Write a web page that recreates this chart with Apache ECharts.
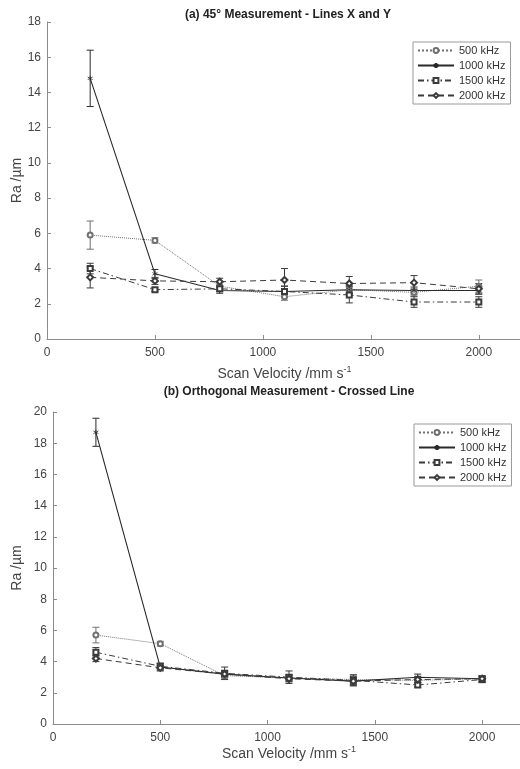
<!DOCTYPE html>
<html lang="en">
<head>
    <meta charset="UTF-8"/>
    <title>Ra vs scan velocity</title>
    <script type="text/javascript" src="https://cdn.jsdelivr.net/npm/echarts@6/dist/echarts.min.js"></script>
</head>
<body style="margin:0;background:#fff">
<div id="main" style="width: 520px;height: 769px"></div>
<script type="text/javascript">
    // scan velocities (mm/s)
    var velocity = [200, 500, 800, 1100, 1400, 1700, 2000];
    var seriesNames = ['500 kHz', '1000 kHz', '1500 kHz', '2000 kHz'];
    var xTicks = [0, 500, 1000, 1500, 2000];

    // (a) 45 deg measurement, Ra in um, and error (+/-)
    var a500 = [5.9, 5.6, 3.0, 2.4, 2.8, 2.65, 3.0];
    var a500Err = [0.8, 0.15, 0.2, 0.2, 0.25, 0.2, 0.35];
    var a1000 = [14.8, 3.7, 2.75, 2.7, 2.8, 2.75, 2.75];
    var a1000Err = [1.6, 0.25, 0.15, 0.3, 0.2, 0.2, 0.2];
    var a1500 = [4.0, 2.8, 2.85, 2.7, 2.5, 2.1, 2.1];
    var a1500Err = [0.3, 0.1, 0.15, 0.3, 0.45, 0.3, 0.3];
    var a2000 = [3.5, 3.3, 3.25, 3.35, 3.15, 3.2, 2.85];
    var a2000Err = [0.6, 0.2, 0.2, 0.65, 0.4, 0.4, 0.3];

    // (b) orthogonal measurement
    var b500 = [5.7, 5.15, 3.1, 2.95, 2.85, 2.8, 2.9];
    var b500Err = [0.5, 0.15, 0.2, 0.2, 0.3, 0.15, 0.2];
    var b1000 = [18.7, 3.65, 3.2, 2.95, 2.75, 3.0, 2.9];
    var b1000Err = [0.9, 0.25, 0.2, 0.2, 0.2, 0.2, 0.15];
    var b1500 = [4.6, 3.7, 3.25, 3.0, 2.8, 2.5, 2.85];
    var b1500Err = [0.3, 0.15, 0.4, 0.4, 0.35, 0.15, 0.2];
    var b2000 = [4.2, 3.6, 3.2, 2.9, 2.75, 2.85, 2.9];
    var b2000Err = [0.2, 0.15, 0.2, 0.2, 0.3, 0.2, 0.2];

    var starPath = 'path://M0,-5L0,5M-4.3,-2.5L4.3,2.5M-4.3,2.5L4.3,-2.5';
    var styles = [
        {symbol: 'emptyCircle', size: 5, color: '#707070', type: 'dotted', width: 1},
        {symbol: starPath, size: 5, color: '#2a2a2a', type: 'solid', width: 1.1},
        {symbol: 'emptyRect', size: 5, color: '#3a3a3a', type: [6, 3, 1.5, 3], width: 1},
        {symbol: 'emptyDiamond', size: 6, color: '#3a3a3a', type: [6, 4], width: 1}
    ];

    var myChart = echarts.init(document.getElementById('main'));

    function pairs(ys) {
        return velocity.map(function (v, i) { return [v, ys[i]]; });
    }

    function errData(ys, es) {
        return velocity.map(function (v, i) { return [v, ys[i] - es[i], ys[i] + es[i]]; });
    }

    function errBar(params, api) {
        var lo = api.coord([api.value(0), api.value(1)]);
        var hi = api.coord([api.value(0), api.value(2)]);
        var st = {stroke: api.visual('color'), lineWidth: 1};
        return {
            type: 'group',
            children: [
                {type: 'line', shape: {x1: lo[0], y1: lo[1], x2: hi[0], y2: hi[1]}, style: st},
                {type: 'line', shape: {x1: lo[0] - 3.5, y1: lo[1], x2: lo[0] + 3.5, y2: lo[1]}, style: st},
                {type: 'line', shape: {x1: hi[0] - 3.5, y1: hi[1], x2: hi[0] + 3.5, y2: hi[1]}, style: st}
            ]
        };
    }

    var series = [];
    var bars = [];
    function addSet(idx, list, errs) {
        list.forEach(function (ys, k) {
            var s = styles[k];
            series.push({
                name: seriesNames[k], type: 'line', xAxisIndex: idx, yAxisIndex: idx,
                data: pairs(ys), symbol: s.symbol, symbolSize: s.size,
                lineStyle: {color: s.color, type: s.type, width: s.width},
                itemStyle: {color: s.color, borderColor: s.color, borderWidth: 0.8},
                z: 2
            });
            // error bars go after the lines so the legend picks up the line icon
            bars.push({
                name: seriesNames[k], type: 'custom', xAxisIndex: idx, yAxisIndex: idx,
                renderItem: errBar, data: errData(ys, errs[k]),
                itemStyle: {color: s.color}, z: 1, silent: true
            });
        });
    }
    addSet(0, [a500, a1000, a1500, a2000], [a500Err, a1000Err, a1500Err, a2000Err]);
    addSet(1, [b500, b1000, b1500, b2000], [b500Err, b1000Err, b1500Err, b2000Err]);
    series = series.concat(bars);

    var axisGray = '#8c8c8c';
    function xAxis(idx, gap) {
        return {
            type: 'value', gridIndex: idx, min: 0, max: 2200, interval: 500,
            name: '{a|Scan Velocity /mm s}{b|-1}', nameLocation: 'middle', nameGap: gap,
            nameTextStyle: {
                rich: {
                    a: {fontSize: 14, color: '#444', fontFamily: 'Liberation Sans'},
                    b: {fontSize: 9, color: '#444', fontFamily: 'Liberation Sans', padding: [0, 0, 9, 0]}
                }
            },
            axisLine: {show: true, lineStyle: {color: axisGray}},
            axisTick: {show: true, inside: true, length: 4, lineStyle: {color: axisGray}},
            axisLabel: {color: '#444', fontSize: 12, fontFamily: 'Liberation Sans', showMaxLabel: false,
                formatter: function (v) { return xTicks.indexOf(v) >= 0 ? v : ''; }},
            splitLine: {show: false}
        };
    }
    function yAxis(idx, max, gap) {
        return {
            type: 'value', gridIndex: idx, min: 0, max: max, interval: 2,
            name: 'Ra /µm', nameLocation: 'middle', nameGap: gap, nameMoveOverlap: false,
            nameTextStyle: {fontSize: 14, color: '#444', fontFamily: 'Liberation Sans'},
            axisLine: {show: true, lineStyle: {color: axisGray}},
            axisTick: {show: true, inside: true, length: 4, lineStyle: {color: axisGray}},
            axisLabel: {color: '#444', fontSize: 12, fontFamily: 'Liberation Sans', margin: 6},
            splitLine: {show: false}
        };
    }
    function legend(top, left) {
        return {
            data: seriesNames, orient: 'vertical', top: top, left: left,
            itemWidth: 36, itemHeight: 6, itemGap: 4,
            padding: [3, 5, 3, 4], borderColor: '#999', borderWidth: 1, backgroundColor: '#fff',
            textStyle: {fontSize: 11, color: '#333', fontFamily: 'Liberation Sans'}
        };
    }

    var option = {
        animation: false,
        title: [
            {text: '(a) 45° Measurement - Lines X and Y', left: 283, top: 4, textAlign: 'center',
                textStyle: {fontSize: 12, fontWeight: 'bold', color: '#222', fontFamily: 'Liberation Sans'}},
            {text: '(b) Orthogonal Measurement - Crossed Line', left: 284, top: 381, textAlign: 'center',
                textStyle: {fontSize: 12, fontWeight: 'bold', color: '#222', fontFamily: 'Liberation Sans'}}
        ],
        legend: [legend(42, 413), legend(424, 414)],
        grid: [
            {left: 47, top: 22, width: 475, height: 317, outerBoundsMode: 'none'},
            {left: 53, top: 412, width: 472, height: 312, outerBoundsMode: 'none'}
        ],
        xAxis: [xAxis(0, 26), xAxis(1, 21)],
        yAxis: [yAxis(0, 18, 23), yAxis(1, 20, 29)],
        series: series
    };

    myChart.setOption(option);
</script>
</body>
</html>
